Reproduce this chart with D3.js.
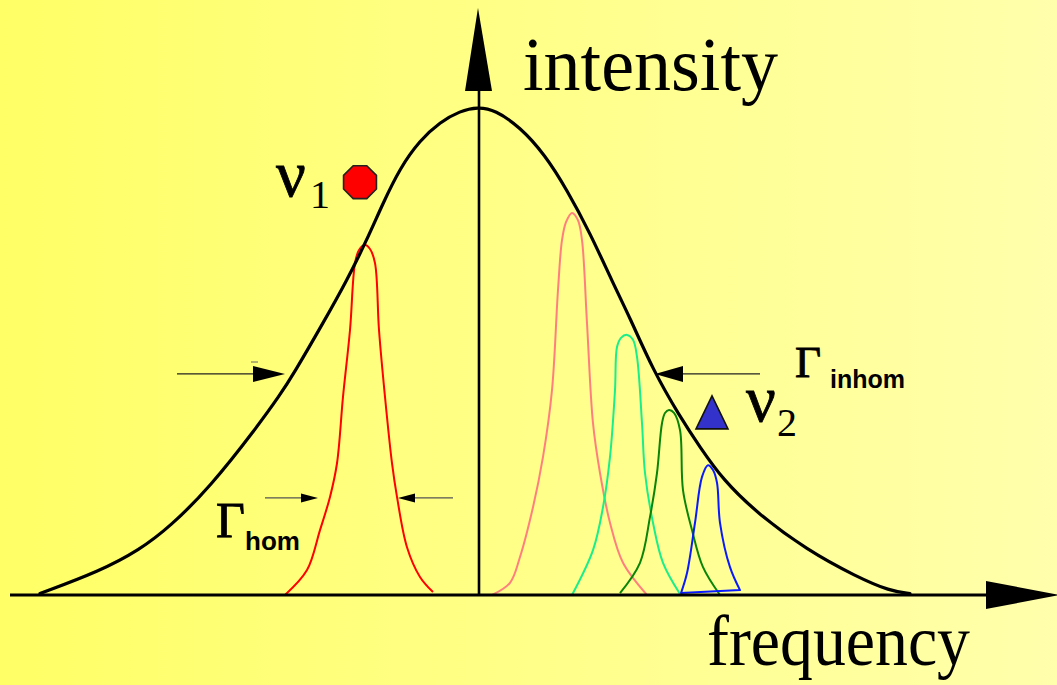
<!DOCTYPE html>
<html>
<head>
<meta charset="utf-8">
<script src="https://cdn.jsdelivr.net/npm/d3@7"></script>
<style>
  html, body { margin: 0; padding: 0; background: #fff; }
  svg { display: block; }
</style>
</head>
<body>
<svg id="chart" width="1057" height="685"></svg>
<script>
// Inhomogeneous line broadening: a broad envelope built from narrow homogeneous lines.
// Frequency in arbitrary units (0 at the intensity axis), intensity in % of envelope maximum.

const envelopeFreq = [-43.9, -37.9, -33.9, -30.9, -26.9, -22.2, -19.9, -18.6, -15.6, -13.2, -11.3, -9.6, -7.9, -5.9, -3.9, -1.9, -0.1, 1.6, 4.1, 6.6, 8.8, 11.1, 13.4, 15.1, 17.4, 20.1, 22.1, 24.4, 27.8, 32.8, 37.8, 41.1, 43.1];
const envelopeInt  = [0.3, 4.9, 9.3, 14.0, 22.1, 34.4, 41.0, 45.1, 55.7, 64.5, 72.4, 80.3, 87.5, 93.2, 96.9, 99.2, 100, 99.4, 95.9, 90.2, 83.0, 74.2, 63.9, 56.8, 46.1, 36.5, 30.3, 23.6, 16.8, 9.2, 3.7, 0.8, 0.3];

const redFreq = [-19.4, -17.2, -15.9, -14.9, -14.2, -13.6, -12.9, -12.4, -12.0, -11.4, -10.9, -10.4, -10.0, -9.4, -8.7, -8.2, -7.2, -5.9, -4.6];
const redInt  = [0, 5.1, 13.3, 20.1, 27.0, 40.6, 54.3, 68.0, 70.7, 71.7, 70.9, 68.0, 54.3, 40.6, 27.0, 20.1, 9.8, 3.7, 0.6];

const pinkFreq = [1.3, 3.1, 4.1, 5.4, 6.4, 7.3, 7.9, 8.3, 8.7, 9.3, 9.9, 10.3, 10.8, 11.4, 12.1, 13.1, 14.4, 16.8];
const pinkInt  = [0, 2.5, 7.8, 18.0, 28.3, 42.0, 62.5, 72.7, 76.4, 78.3, 76.8, 72.7, 55.7, 35.2, 25.0, 14.8, 6.6, 0];

const lightGreenFreq = [9.3, 11.4, 12.4, 13.1, 13.6, 13.8, 14.2, 14.8, 15.4, 15.8, 16.3, 16.6, 17.4, 18.4, 20.1];
const lightGreenInt  = [0, 9.2, 18.0, 28.3, 42.0, 50.8, 52.7, 53.3, 52.3, 48.8, 35.2, 25.0, 14.8, 6.6, 0.2];

const darkGreenFreq = [14.1, 16.1, 17.1, 17.8, 18.3, 18.6, 19.0, 19.5, 20.1, 20.4, 21.3, 22.4, 24.1];
const darkGreenInt  = [0.4, 6.6, 16.0, 25.0, 35.2, 37.3, 37.9, 37.3, 33.8, 21.5, 13.3, 5.7, 0];

const blueFreq = [20.2, 20.8, 21.6, 22.3, 22.9, 23.4, 23.8, 24.1, 25.1, 26.1];
const blueInt  = [0.4, 4.5, 14.8, 24.2, 26.6, 25.6, 23.0, 14.8, 5.7, 1.0];

const axisLabels = ["intensity", "frequency"];

// ---------------------------------------------------------------------------
const svg = d3.select("#chart");
const W = 1057, H = 685;

const x = d3.scaleLinear().domain([-46.9, 57.8]).range([10, 1057]);
const y = d3.scaleLinear().domain([0, 100]).range([595, 107]);

// background gradient
const defs = svg.append("defs");
const grad = defs.append("linearGradient").attr("id", "bg")
  .attr("x1", "0%").attr("x2", "100%").attr("y1", "0%").attr("y2", "0%");
grad.append("stop").attr("offset", "0%").attr("stop-color", "#ffff66");
grad.append("stop").attr("offset", "100%").attr("stop-color", "#ffffac");
svg.append("rect").attr("width", W).attr("height", H).attr("fill", "url(#bg)");

const zip = (fs, is) => fs.map((f, i) => [f, is[i]]);
const line = d3.line().x(d => x(d[0])).y(d => y(d[1])).curve(d3.curveCatmullRom.alpha(0.5));
const smooth = d3.line().x(d => x(d[0])).y(d => y(d[1])).curve(d3.curveBasis);

// narrow lines
const lines = [
  { f: redFreq, i: redInt, color: "#ff0000", closed: false },
  { f: pinkFreq, i: pinkInt, color: "#ff7f7f", closed: false },
  { f: lightGreenFreq, i: lightGreenInt, color: "#1aee8a", closed: false },
  { f: darkGreenFreq, i: darkGreenInt, color: "#0a850a", closed: false },
  { f: blueFreq, i: blueInt, color: "#0a1aff", closed: true }
];
svg.append("g").selectAll("path").data(lines).join("path")
  .attr("d", d => line(zip(d.f, d.i)) + (d.closed ? "Z" : ""))
  .attr("fill", "none")
  .attr("stroke", d => d.color)
  .attr("stroke-width", 2)
  .attr("stroke-linejoin", "round");

// envelope
svg.append("path")
  .attr("d", smooth(zip(envelopeFreq, envelopeInt)))
  .attr("fill", "none").attr("stroke", "#000").attr("stroke-width", 3.2)
  .attr("stroke-linecap", "round");

// axes
const x0 = x(0);
svg.append("line").attr("x1", x(-46.9)).attr("x2", 986).attr("y1", y(0)).attr("y2", y(0))
  .attr("stroke", "#000").attr("stroke-width", 3.2);
svg.append("path").attr("d", `M986,581 L1060,${y(0)} L986,609 Z`).attr("fill", "#000");
svg.append("line").attr("x1", x0).attr("x2", x0).attr("y1", y(0)).attr("y2", 88)
  .attr("stroke", "#000").attr("stroke-width", 2.6);
svg.append("path").attr("d", `M${x0 - 14},91 L${x0 - 1},8 L${x0 + 13},91 Z`).attr("fill", "#000");

// arrows
function arrow(xFrom, xTip, yy, headLen, headHalf, width, color) {
  const dir = Math.sign(xTip - xFrom);
  const base = xTip - dir * headLen;
  svg.append("line").attr("x1", xFrom).attr("x2", base).attr("y1", yy).attr("y2", yy)
    .attr("stroke", color).attr("stroke-width", width);
  svg.append("path").attr("d", `M${base},${yy - headHalf} L${xTip},${yy} L${base},${yy + headHalf} Z`)
    .attr("fill", "#000");
}
arrow(x(-30.2), x(-19.4), y(45.3), 32, 8, 1.2, "#222");   // envelope half width, left
arrow(x(28.1), x(17.6), y(45.3), 28, 8, 1.2, "#222");     // envelope half width, right
arrow(x(-21.4), x(-16.1), y(19.9), 17, 4.5, 1.2, "#555"); // homogeneous width, left
arrow(x(-2.6), x(-8.1), y(19.9), 17, 4.5, 1.2, "#555");   // homogeneous width, right
svg.append("line").attr("x1", 251).attr("x2", 258).attr("y1", 362).attr("y2", 362)
  .attr("stroke", "#666").attr("stroke-width", 1);

// markers
const oct = d3.range(8).map(k => {
  const a = Math.PI / 8 + k * Math.PI / 4;
  return [17.8 * Math.cos(a), 17.8 * Math.sin(a)];
});
svg.append("path")
  .attr("transform", `translate(${x(-11.9)},${y(84.6)})`)
  .attr("d", "M" + oct.map(p => p.join(",")).join("L") + "Z")
  .attr("fill", "#ff0000").attr("stroke", "#222").attr("stroke-width", 1.6);
svg.append("path")
  .attr("transform", `translate(${x(23.3)},${y(36.5)})`)
  .attr("d", "M0,-21 L16,12 L-16,12 Z")
  .attr("fill", "#3333cc").attr("stroke", "#111").attr("stroke-width", 1.6);

// text
const serif = "'Liberation Serif', 'Times New Roman', serif";
const sans = "'Liberation Sans', Arial, sans-serif";
svg.append("text").attr("x", 523).attr("y", 90).attr("font-family", serif).attr("font-size", 76)
  .attr("textLength", 255).attr("lengthAdjust", "spacingAndGlyphs").text(axisLabels[0]);
svg.append("text").attr("x", 707).attr("y", 665).attr("font-family", serif).attr("font-size", 72)
  .attr("textLength", 263).attr("lengthAdjust", "spacingAndGlyphs").text(axisLabels[1]);

function sym(xx, yy, size, family, weight, str, bolder) {
  const t = svg.append("text").attr("x", xx).attr("y", yy).attr("font-family", family)
    .attr("font-size", size).attr("font-weight", weight).text(str);
  if (bolder) t.attr("stroke", "#000").attr("stroke-width", bolder);
}
sym(276, 196, 66, serif, "normal", "ν", 0.8);
sym(310, 208, 40, serif, "normal", "1");
sym(746, 421, 66, serif, "normal", "ν", 0.8);
sym(777, 436, 40, serif, "normal", "2");
sym(795, 377, 45, serif, "normal", "Γ", 0.9);
sym(830, 388, 25, sans, "bold", "inhom");
sym(216, 537, 50, serif, "normal", "Γ", 0.9);
sym(245, 550, 26, sans, "bold", "hom");
</script>
</body>
</html>
